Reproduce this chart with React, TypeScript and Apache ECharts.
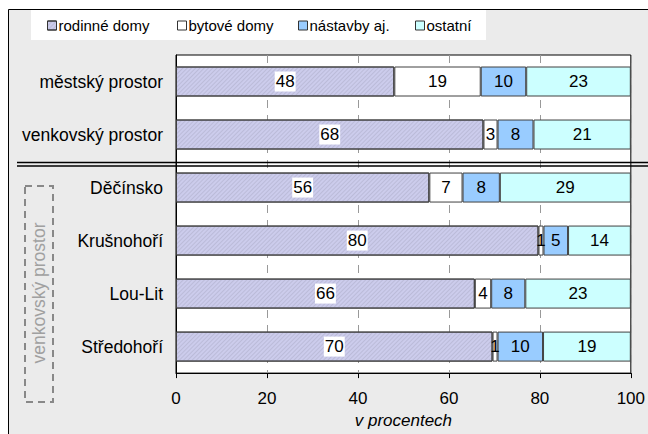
import React, { useEffect, useRef } from "react";
import * as echarts from "echarts";

const categories = ["městský prostor", "venkovský prostor", "Děčínsko", "Krušnohoří", "Lou-Lit", "Středohoří"];
const seriesNames = ["rodinné domy", "bytové domy", "nástavby aj.", "ostatní"];
const rodinneDomy = [48, 67.6, 55.7, 79.7, 65.7, 69.6];
const bytoveDomy = [19, 3.1, 7.3, 1.1, 3.6, 1.1];
const nastavby = [10, 7.9, 8.2, 5.4, 7.5, 10.0];
const ostatni = [23, 21.4, 28.8, 13.8, 23.2, 19.3];
const xTicks = [0, 20, 40, 60, 80, 100];

const FONT = "'Liberation Sans', Arial, sans-serif";
const FS = 17;

export default function App() {
  const ref = useRef<HTMLDivElement>(null);
  useEffect(() => {
    if (!ref.current) return;
    const chart = echarts.init(ref.current, null, { renderer: "svg" });
    const colors = ["#ccccec", "#ffffff", "#99ccff", "#ccffff"];
    const values = [rodinneDomy, bytoveDomy, nastavby, ostatni];
    const series = seriesNames.map((name, i) => ({
      name,
      type: "bar",
      stack: "total",
      barWidth: 30,
      data: values[i],
      itemStyle: {
        color: colors[i],
        borderColor: "#404040",
        borderWidth: 1,
        decal:
          i === 0
            ? {
                symbol: "rect",
                color: "rgba(120,120,140,0.2)",
                dashArrayX: [1, 0],
                dashArrayY: [1, 2],
                rotation: -Math.PI / 4,
              }
            : "none",
      },
      label: {
        show: true,
        position: "inside",
        color: "#000",
        fontSize: FS,
        fontFamily: FONT,
        formatter: (p: any) => String(Math.round(p.value)),
        ...(i === 0 ? { backgroundColor: "#fff", padding: [2, 1, 1, 1] } : {}),
      },
      emphasis: { disabled: true },
    }));
    const legendLefts = [47, 177, 298, 415];
    const legends = seriesNames.map((n, i) => ({
      data: [n],
      left: legendLefts[i],
      top: 18,
      padding: 0,
      icon: "rect",
      itemWidth: 9,
      itemHeight: 9,
      itemGap: 0,
      itemStyle: { borderColor: "#333", borderWidth: 1 },
      selectedMode: false,
      textStyle: { fontSize: 15, fontFamily: FONT, color: "#000", padding: [0, 0, 0, -3] },
    }));
    chart.setOption({
      animation: false,
      backgroundColor: "#ffffff",
      legend: legends,
      graphic: [
        {
          type: "rect",
          z: -10,
          silent: true,
          shape: { x: 8.5, y: 9.5, width: 650, height: 440 },
          style: { fill: "#ebebeb", stroke: "#000", lineWidth: 1 },
        },
        {
          type: "rect",
          z: -9,
          silent: true,
          shape: { x: 31, y: 10, width: 455, height: 30 },
          style: { fill: "#ffffff" },
        },
        {
          type: "line",
          z: 100,
          silent: true,
          shape: { x1: 17, y1: 162.5, x2: 648, y2: 162.5 },
          style: { stroke: "#000", lineWidth: 1.5 },
        },
        {
          type: "line",
          z: 100,
          silent: true,
          shape: { x1: 17, y1: 166, x2: 648, y2: 166 },
          style: { stroke: "#000", lineWidth: 1.5 },
        },
        {
          type: "rect",
          silent: true,
          shape: { x: 25, y: 186, width: 28, height: 216 },
          style: { fill: "none", stroke: "#888", lineWidth: 2, lineDash: [7, 5] },
        },
        {
          type: "text",
          silent: true,
          x: 39,
          y: 293,
          rotation: Math.PI / 2,
          style: {
            text: "venkovský prostor",
            fill: "#a0a0a0",
            fontSize: 17.5,
            fontFamily: FONT,
            align: "center",
            verticalAlign: "middle",
          },
        },
      ],
      grid: {
        left: 176,
        right: 15,
        top: 55,
        bottom: 54,
        show: true,
        backgroundColor: "#fff",
        borderColor: "#000",
        borderWidth: 1,
      },
      xAxis: {
        type: "value",
        min: xTicks[0],
        max: xTicks[xTicks.length - 1],
        interval: 20,
        name: "v procentech",
        nameLocation: "middle",
        nameGap: 34,
        nameTextStyle: { fontSize: FS, fontStyle: "italic", fontFamily: FONT, color: "#000" },
        axisLine: { show: true, lineStyle: { color: "#000", width: 1 } },
        axisTick: { show: true, length: 5, lineStyle: { color: "#000" } },
        axisLabel: { fontSize: FS, fontFamily: FONT, color: "#000", margin: 17 },
        splitLine: { show: true, lineStyle: { color: "#999", type: [8, 7], width: 1 } },
      },
      yAxis: {
        type: "category",
        data: categories,
        inverse: true,
        axisLine: { show: true, lineStyle: { color: "#000", width: 1 } },
        axisTick: { show: false },
        axisLabel: { fontSize: 17.5, fontFamily: FONT, color: "#000", margin: 13 },
        splitLine: { show: false },
      },
      series,
    });
    return () => chart.dispose();
  }, []);
  return (
    <div
      ref={ref}
      style={{ position: "absolute", left: 0, top: 0, width: 648, height: 434 }}
    />
  );
}
